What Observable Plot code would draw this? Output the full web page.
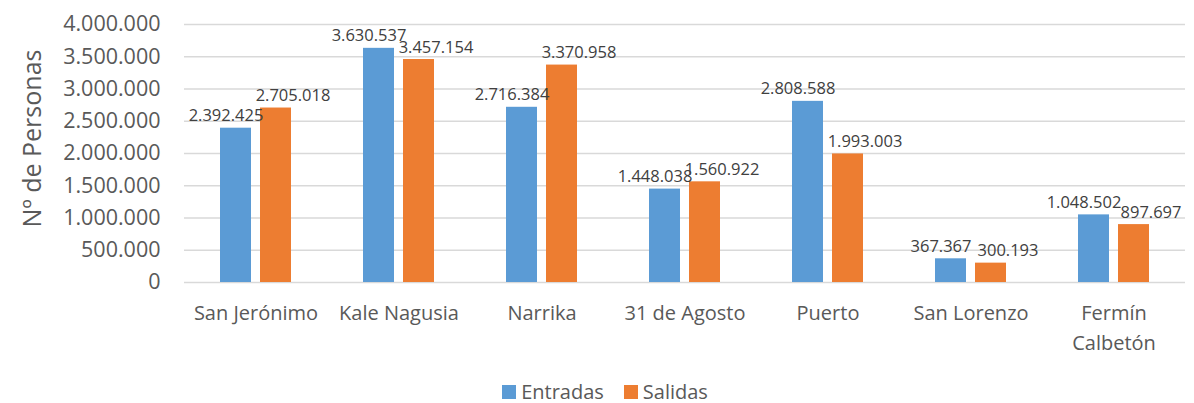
<!DOCTYPE html>
<html>
<head>
<meta charset="utf-8">
<script src="https://cdn.jsdelivr.net/npm/d3@7"></script>
<script src="https://cdn.jsdelivr.net/npm/@observablehq/plot@0.6"></script>
<style>
  html, body { margin: 0; padding: 0; background: #fff; }
  body { width: 1194px; height: 403px; overflow: hidden; font-family: "Open Sans", sans-serif; }
  #legend { display: flex; justify-content: center; align-items: center; height: 20px; padding-left: 16px;
            font-size: 20px; color: #595959; line-height: 20px; }
  #legend .item { display: flex; align-items: center; margin: 0 10px; }
  #legend .sw { width: 14px; height: 14px; margin-right: 5px; }
</style>
</head>
<body>
<div id="chart"></div>
<div id="legend"></div>
<script>
const categories = ["San Jerónimo", "Kale Nagusia", "Narrika", "31 de Agosto", "Puerto", "San Lorenzo", "Fermín Calbetón"];
const categoryLabels = ["San Jerónimo", "Kale Nagusia", "Narrika", "31 de Agosto", "Puerto", "San Lorenzo", "Fermín\nCalbetón"];
const entradas = [2392425, 3630537, 2716384, 1448038, 2808588, 367367, 1048502];
const salidas = [2705018, 3457154, 3370958, 1560922, 1993003, 300193, 897697];
const series = ["Entradas", "Salidas"];
const colors = ["#5B9BD5", "#ED7D31"];
const yTicks = [0, 500000, 1000000, 1500000, 2000000, 2500000, 3000000, 3500000, 4000000];
const yLabel = "Nº de Personas";

const locale = d3.formatLocale({decimal: ",", thousands: ".", grouping: [3], currency: ["", "€"]});
const fmt = locale.format(",d");

const table = [];
categories.forEach((c, i) => {
  table.push({cat: c, series: "Entradas", value: entradas[i]});
  table.push({cat: c, series: "Salidas", value: salidas[i]});
});
const labelOf = new Map(categories.map((c, i) => [c, categoryLabels[i]]));

const plot = Plot.plot({
  width: 1194,
  height: 382,
  marginLeft: 183,
  marginRight: 9,
  marginTop: 24,
  marginBottom: 100,
  style: {fontFamily: "Open Sans, sans-serif", background: "#fff"},
  fx: {domain: categories, padding: 0, axis: null},
  x: {domain: series, paddingInner: 0.22, paddingOuter: 0.854, axis: null},
  y: {domain: [0, 4000000], axis: null},
  color: {domain: series, range: colors},
  marks: [
    Plot.gridY(yTicks, {stroke: "#D9D9D9", strokeOpacity: 1, strokeWidth: 1.5}),
    Plot.axisY(yTicks, {
      tickFormat: fmt, tickSize: 0, tickPadding: 24, fontSize: 21.5, fill: "#595959",
      label: yLabel, labelAnchor: "center", labelArrow: "none", labelOffset: 161
    }),
    Plot.axisFx({
      anchor: "bottom", tickFormat: d => labelOf.get(d), tickSize: 0, tickPadding: 16, fontSize: 20,
      fill: "#595959", label: null, lineHeight: 1.5
    }),
    Plot.barY(table, {fx: "cat", x: "series", y: "value", fill: "series"}),
    Plot.text(table.filter(d => d.series === "Entradas"), {
      fx: "cat", x: "series", y: "value", text: d => fmt(d.value),
      lineAnchor: "bottom", dy: -7, dx: -10, fontSize: 16.5, fill: "#404040"
    }),
    Plot.text(table.filter(d => d.series === "Salidas"), {
      fx: "cat", x: "series", y: "value", text: d => fmt(d.value),
      lineAnchor: "bottom", dy: -7, dx: 17, fontSize: 16.5, fill: "#404040"
    })
  ]
});
document.getElementById("chart").appendChild(plot);

// y-axis title styling and placement
const yl = d3.select(plot).select("[aria-label='y-axis label']");
yl.attr("font-size", 25).attr("fill", "#595959");
const oldT = yl.attr("transform") || "";
yl.attr("transform", "translate(0,-15) " + oldT);

const legend = document.getElementById("legend");
series.forEach((s, i) => {
  const item = document.createElement("div");
  item.className = "item";
  item.innerHTML = `<span class="sw" style="background:${colors[i]}"></span><span>${s}</span>`;
  legend.appendChild(item);
});
</script>
</body>
</html>
